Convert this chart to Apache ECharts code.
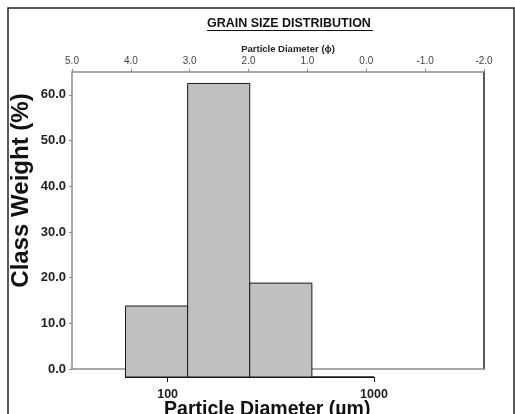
<!DOCTYPE html>
<html>
<head>
<meta charset="utf-8">
<script src="https://cdn.jsdelivr.net/npm/echarts@6/dist/echarts.min.js"></script>
<style>
  html, body { margin: 0; padding: 0; background: #fff; }
  #chart { width: 515px; height: 414px; }
</style>
</head>
<body>
<div id="chart"></div>
<script>
// grain size histogram, phi scale on top, micron scale (log) below

var binLow = [62.5, 125, 250, 500];          // um
var binHigh = [125, 250, 500, 1000];         // um
var classWeight = [15.5, 64.1, 20.5, 0.0];   // %
var yTicks = [0, 10, 20, 30, 40, 50, 60];
var umTicks = [100, 1000];

var barData = [];
for (var i = 0; i < classWeight.length; i++) {
    barData.push([binLow[i], binHigh[i], classWeight[i]]);
}

var font = 'Liberation Sans, Arial, sans-serif';
var gray = '#8c8c8c';

var chart = echarts.init(document.getElementById('chart'));
chart.setOption({
    backgroundColor: '#fff',
    animation: false,
    title: {
        text: 'GRAIN SIZE DISTRIBUTION',
        left: 207,
        top: 17,
        padding: 0,
        textStyle: { fontFamily: font, fontSize: 12.5, fontWeight: 'bold', color: '#111' }
    },
    graphic: [
        // outer frame
        { type: 'rect', shape: { x: 8, y: 8, width: 506, height: 420 }, style: { fill: 'none', stroke: '#222', lineWidth: 1.5 }, silent: true },
        // title underline
        { type: 'line', shape: { x1: 207, y1: 30.5, x2: 373, y2: 30.5 }, style: { stroke: '#111', lineWidth: 1 }, silent: true }
    ],
    grid: [
        { left: 72, right: 31, top: 72, bottom: 45, outerBoundsMode: 'none' },
        { left: 125.5, right: 141, top: 72, bottom: 37, outerBoundsMode: 'none' }
    ],
    xAxis: [
        {
            gridIndex: 0,
            type: 'value',
            position: 'top',
            inverse: true,
            min: -2,
            max: 5,
            interval: 1,
            name: 'Particle Diameter (ϕ)',
            nameLocation: 'middle',
            nameGap: 18,
            nameMoveOverlap: false,
            nameTextStyle: { fontFamily: font, fontSize: 9.5, fontWeight: 'bold', color: '#222', padding: [0, 0, 0, 20] },
            axisLine: { onZero: false, lineStyle: { color: gray, width: 1.5 } },
            axisTick: { length: 3, lineStyle: { color: gray } },
            axisLabel: {
                margin: 6,
                fontFamily: font, fontSize: 10, color: '#444',
                formatter: function (v) { return v.toFixed(1); }
            },
            splitLine: { show: false }
        },
        {
            // zero line at bottom of plot frame
            gridIndex: 0,
            type: 'value',
            position: 'bottom',
            min: -2,
            max: 5,
            axisLine: { onZero: false, lineStyle: { color: gray, width: 1.5 } },
            axisTick: { show: false },
            axisLabel: { show: false },
            splitLine: { show: false }
        },
        {
            gridIndex: 1,
            type: 'log',
            logBase: 10,
            min: 62.5,
            max: 1000,
            position: 'bottom',
            name: 'Particle Diameter (µm)',
            nameLocation: 'middle',
            nameGap: 23,
            nameMoveOverlap: false,
            nameTextStyle: { fontFamily: font, fontSize: 19.5, fontWeight: 'bold', color: '#111', padding: [0, 0, 0, 35] },
            axisLine: { onZero: false, lineStyle: { color: '#111', width: 1 } },
            axisTick: { length: 5, lineStyle: { color: '#111' }, customValues: umTicks },
            axisLabel: {
                margin: 11,
                fontFamily: font, fontSize: 12.5, fontWeight: 'bold', color: '#222',
                customValues: umTicks,
                formatter: function (v) { return String(v); }
            },
            splitLine: { show: false }
        }
    ],
    yAxis: [
        {
            gridIndex: 0,
            type: 'value',
            position: 'left',
            min: 0,
            max: 65,
            name: 'Class Weight (%)',
            nameLocation: 'middle',
            nameGap: 39,
            nameMoveOverlap: false,
            nameTextStyle: { fontFamily: font, fontSize: 24, fontWeight: 'bold', color: '#111', padding: [0, 0, 0, 60] },
            axisLine: { show: true, onZero: false, lineStyle: { color: gray, width: 1.5 } },
            axisTick: { show: true, length: 3, lineStyle: { color: gray }, customValues: yTicks },
            axisLabel: {
                margin: 6,
                fontFamily: font, fontSize: 13, fontWeight: 'bold', color: '#222',
                customValues: yTicks,
                formatter: function (v) { return v.toFixed(1); }
            },
            splitLine: { show: false }
        },
        {
            // right frame edge
            gridIndex: 0,
            type: 'value',
            position: 'right',
            min: 0,
            max: 65,
            axisLine: { show: true, onZero: false, lineStyle: { color: '#222', width: 1.5 } },
            axisTick: { show: false },
            axisLabel: { show: false },
            splitLine: { show: false }
        },
        {
            gridIndex: 1,
            type: 'value',
            min: 0,
            max: 66.6,
            show: false
        }
    ],
    series: [{
        type: 'custom',
        xAxisIndex: 2,
        yAxisIndex: 2,
        clip: false,
        encode: { x: [0, 1], y: 2 },
        data: barData,
        renderItem: function (params, api) {
            var p0 = api.coord([api.value(0), 0]);
            var p1 = api.coord([api.value(1), api.value(2)]);
            return {
                type: 'rect',
                shape: { x: p0[0], y: p1[1], width: p1[0] - p0[0], height: p0[1] - p1[1] },
                style: { fill: '#c0c0c0', stroke: '#1a1a1a', lineWidth: 1 }
            };
        }
    }]
});
</script>
</body>
</html>
